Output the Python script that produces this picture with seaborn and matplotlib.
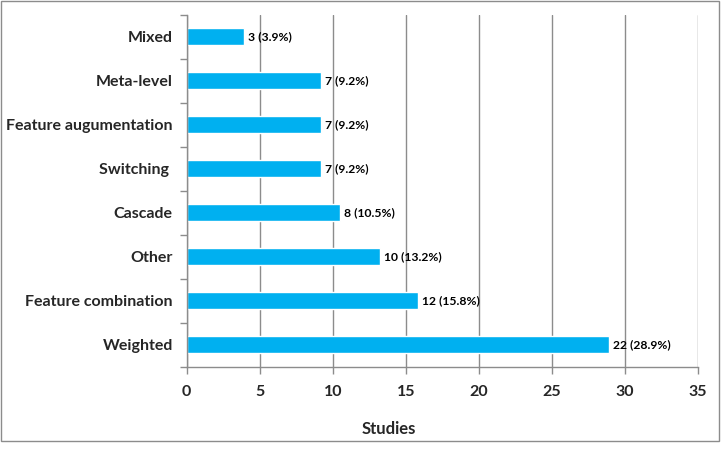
import pandas as pd
import seaborn as sns
import matplotlib.pyplot as plt
from matplotlib.patches import Rectangle

# Data (top to bottom)
categories = ["Mixed", "Meta-level", "Feature augumentation", "Switching ",
              "Cascade", "Other", "Feature combination", "Weighted"]
counts = [3, 7, 7, 7, 8, 10, 12, 22]
percents = [3.9, 9.2, 9.2, 9.2, 10.5, 13.2, 15.8, 28.9]
x_ticks = [0, 5, 10, 15, 20, 25, 30, 35]

df = pd.DataFrame({"Category": categories, "Percent": percents, "Count": counts})

sns.set_style("white")
plt.rcParams['font.family'] = ['Lato', 'DejaVu Sans']
plt.rcParams['font.weight'] = 'bold'

fig = plt.figure(figsize=(7.21, 4.49), dpi=100)
ax = fig.add_axes([0.259, 0.183, 0.709, 0.784])

sns.barplot(data=df, x="Percent", y="Category", order=categories,
            color="#00B0F0", saturation=1, width=0.39, orient="h", ax=ax)

# labels at the end of each bar
for i, (c, p) in enumerate(zip(counts, percents)):
    ax.text(p + 0.3, i, f"{c} ({p}%)", va="center", ha="left",
            fontsize=8.7, fontweight="bold", color="black")

ax.set_xlim(0, 35)
ax.set_ylim(len(categories) - 0.5, -0.5)
ax.set_xticks(x_ticks)
ax.set_xticklabels([str(t) for t in x_ticks], fontsize=11.5, fontweight="bold")
ax.xaxis.grid(True, color="#8c8c8c", linewidth=1)
ax.set_axisbelow(True)

# category boundaries get tick marks, centres get the labels
ax.set_yticks([i - 0.5 for i in range(len(categories) + 1)])
ax.set_yticklabels([])
ax.set_yticks(range(len(categories)), minor=True)
ax.set_yticklabels(categories, minor=True, fontsize=11.5, fontweight="bold")
ax.tick_params(axis="y", which="major", length=5, width=1, color="#8c8c8c", left=True)
ax.tick_params(axis="y", which="minor", length=0, pad=10)
ax.tick_params(axis="x", length=5, width=1, color="#8c8c8c", bottom=True, pad=8)

for side in ["top", "right"]:
    ax.spines[side].set_visible(False)
for side in ["left", "bottom"]:
    ax.spines[side].set_color("#8c8c8c")
    ax.spines[side].set_linewidth(1)

ax.set_ylabel("")
ax.set_xlabel("Studies", fontsize=12, fontweight="bold")
ax.xaxis.set_label_coords(0.395, -0.155)

# grey frame round the whole chart
fig.patches.append(Rectangle((0.002, 0.017), 0.995, 0.98, transform=fig.transFigure,
                             fill=False, edgecolor="#8c8c8c", linewidth=1))

fig.savefig("out.png", dpi=100)
